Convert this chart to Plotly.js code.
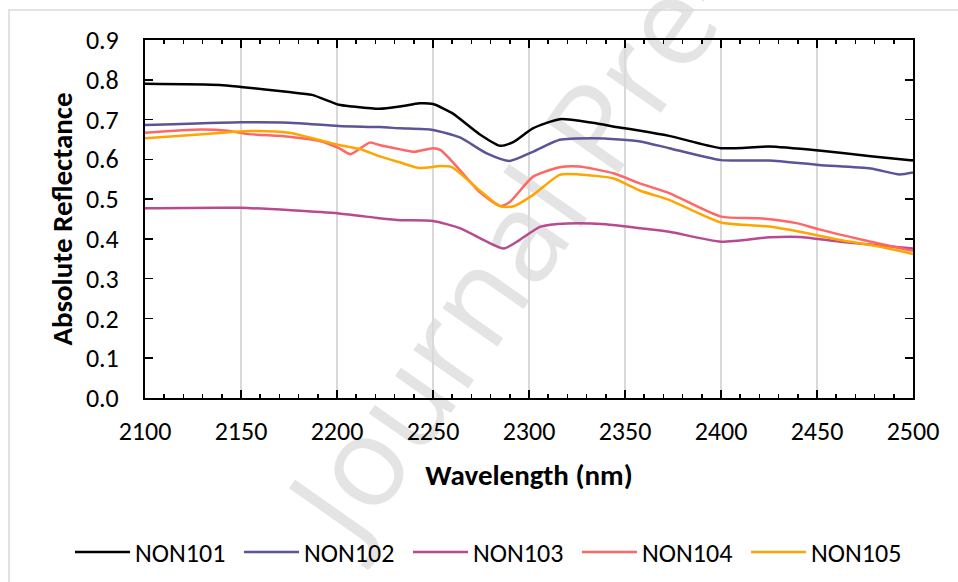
<!DOCTYPE html>
<html>
<head>
<meta charset="utf-8">
<script src="https://cdn.plot.ly/plotly-3.0.1.min.js"></script>
<style>
  html, body { margin: 0; padding: 0; background: #fff; }
  #wrap { position: relative; width: 958px; height: 582px; overflow: hidden; }
  #wm { position: absolute; left: 367px; top: 432px; font-family: "Open Sans", "Noto Sans", sans-serif;
        font-size: 125px; color: #e4e4e4; white-space: nowrap; transform-origin: 0 100%;
        transform: rotate(-55deg); line-height: 1; z-index: 0; }
  #chart { position: absolute; left: 0; top: 0; width: 958px; height: 582px; z-index: 1; }
</style>
</head>
<body>
<div id="wrap">
  <div id="wm">Journal Pre-proof</div>
  <div id="chart"></div>
</div>
<script>
const seriesNames = ["NON101", "NON102", "NON103", "NON104", "NON105"];
const seriesColors = ["#000000", "#5A5598", "#B84A8F", "#FF6666", "#FFA500"];

const wl101 = [2100, 2139, 2150, 2175, 2187, 2201, 2208, 2222, 2233, 2243, 2250, 2260, 2274, 2285, 2292, 2302, 2316, 2333, 2347, 2358, 2373, 2400, 2425, 2451, 2478, 2500];
const non101 = [0.790, 0.787, 0.782, 0.769, 0.762, 0.737, 0.733, 0.727, 0.733, 0.741, 0.739, 0.716, 0.664, 0.634, 0.644, 0.678, 0.701, 0.692, 0.680, 0.672, 0.659, 0.628, 0.632, 0.622, 0.608, 0.597];

const wl102 = [2100, 2150, 2175, 2201, 2222, 2233, 2250, 2264, 2278, 2290, 2302, 2316, 2333, 2347, 2358, 2373, 2400, 2425, 2451, 2478, 2493, 2500];
const non102 = [0.686, 0.693, 0.692, 0.684, 0.681, 0.678, 0.674, 0.655, 0.615, 0.596, 0.619, 0.649, 0.653, 0.650, 0.645, 0.628, 0.598, 0.597, 0.586, 0.577, 0.562, 0.567];

const wl103 = [2100, 2150, 2201, 2222, 2233, 2250, 2264, 2278, 2287, 2295, 2306, 2320, 2340, 2358, 2373, 2400, 2425, 2441, 2462, 2500];
const non103 = [0.477, 0.478, 0.464, 0.452, 0.447, 0.445, 0.427, 0.393, 0.376, 0.397, 0.431, 0.439, 0.437, 0.427, 0.418, 0.393, 0.404, 0.405, 0.393, 0.376];

const wl104 = [2100, 2129, 2143, 2153, 2175, 2191, 2201, 2207, 2217, 2222, 2233, 2240, 2250, 2254, 2264, 2274, 2285, 2290, 2302, 2316, 2326, 2344, 2358, 2373, 2400, 2420, 2440, 2451, 2478, 2500];
const non104 = [0.667, 0.675, 0.672, 0.664, 0.657, 0.646, 0.628, 0.613, 0.642, 0.636, 0.625, 0.619, 0.628, 0.623, 0.573, 0.519, 0.483, 0.493, 0.556, 0.580, 0.582, 0.565, 0.539, 0.515, 0.456, 0.452, 0.439, 0.424, 0.393, 0.370];

const wl105 = [2100, 2132, 2155, 2175, 2201, 2212, 2222, 2233, 2243, 2254, 2260, 2274, 2285, 2292, 2302, 2316, 2326, 2344, 2358, 2373, 2400, 2425, 2441, 2462, 2483, 2500];
const non105 = [0.653, 0.664, 0.671, 0.667, 0.636, 0.626, 0.608, 0.592, 0.578, 0.583, 0.580, 0.523, 0.482, 0.482, 0.510, 0.561, 0.562, 0.552, 0.521, 0.498, 0.441, 0.431, 0.418, 0.397, 0.380, 0.362];

const xs = [wl101, wl102, wl103, wl104, wl105];
const ys = [non101, non102, non103, non104, non105];

const font = "Carlito, Calibri, 'Open Sans', sans-serif";
const legendIds = ['legend', 'legend2', 'legend3', 'legend4', 'legend5'];

const traces = seriesNames.map((n, i) => ({
  type: 'scatter', mode: 'lines', name: n, x: xs[i], y: ys[i],
  legend: legendIds[i],
  line: { color: seriesColors[i], width: 2.5, shape: 'spline', smoothing: 0.6 },
  hoverinfo: 'skip'
}));

const layout = {
  width: 958, height: 582,
  margin: { l: 145, r: 45, t: 40, b: 184, autoexpand: false },
  paper_bgcolor: 'rgba(0,0,0,0)', plot_bgcolor: 'rgba(0,0,0,0)',
  font: { family: font, size: 26, color: '#000' },
  showlegend: true,
  xaxis: {
    range: [2100, 2500], dtick: 50, tick0: 2100,
    showgrid: true, gridcolor: '#d9d9d9', gridwidth: 2,
    showline: true, linecolor: '#000', linewidth: 2, mirror: 'ticks',
    ticks: 'inside', ticklen: 8, tickwidth: 1.5, tickcolor: '#000',
    minor: { dtick: 10, ticks: 'inside', ticklen: 4, tickwidth: 1.5, tickcolor: '#000', showgrid: false },
    ticklabelstandoff: 9, zeroline: false,
    tickfont: { family: font, size: 26 },
    title: { text: '<b>Wavelength (nm)</b>', font: { family: font, size: 29 }, standoff: 18 }
  },
  yaxis: {
    range: [0, 0.9], dtick: 0.1, tick0: 0, tickformat: '.1f',
    showgrid: false,
    showline: true, linecolor: '#000', linewidth: 2, mirror: 'ticks',
    ticks: 'inside', ticklen: 8, tickwidth: 1.5, tickcolor: '#000',
    ticklabelstandoff: 19, zeroline: false,
    tickfont: { family: font, size: 26 },
    title: { text: '<b>Absolute Reflectance</b>', font: { family: font, size: 29 }, standoff: 5 }
  },
  shapes: [{
    type: 'rect', xref: 'paper', yref: 'paper', layer: 'below',
    x0: -136/768, x1: 1 + 60/768, y0: -220/358, y1: 1 + 30/358,
    line: { color: '#d9d9d9', width: 1.5 }, fillcolor: 'rgba(0,0,0,0)'
  }]
};

legendIds.forEach((id, i) => {
  layout[id] = {
    orientation: 'h', xref: 'container', yref: 'container',
    x: (70 + 169 * i) / 958, xanchor: 'left', y: 1 - 552 / 582, yanchor: 'middle',
    font: { family: font, size: 26, color: '#000' },
    itemwidth: 55, bgcolor: 'rgba(0,0,0,0)'
  };
});

Plotly.newPlot('chart', traces, layout, { displayModeBar: false, staticPlot: true });
</script>
</body>
</html>
